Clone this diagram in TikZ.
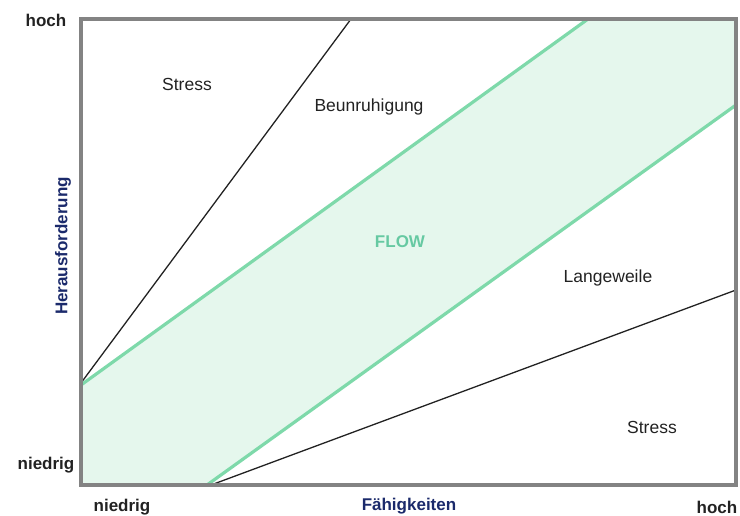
\documentclass[tikz,border=0pt]{standalone}
\usepackage{fontspec}
\setmainfont{Liberation Sans}
\definecolor{framegray}{HTML}{838383}
\definecolor{flowline}{HTML}{7ED9AA}
\definecolor{flowfill}{HTML}{E5F7ED}
\definecolor{flowtext}{HTML}{66C9A2}
\definecolor{axisnavy}{HTML}{1B2A6B}
\definecolor{ink}{HTML}{222222}
\tikzset{
  zone/.style={font=\fontsize{17.5}{20}\selectfont, text=ink, inner sep=0pt},
  tick/.style={font=\fontsize{17}{20}\selectfont\bfseries, text=ink, inner sep=0pt},
  axislabel/.style={font=\fontsize{17}{20}\selectfont\bfseries, text=axisnavy, inner sep=0pt},
  boundary/.style={line width=1.3pt, ink},
  channel/.style={line width=3.2pt, flowline},
}
\begin{document}
\begin{tikzpicture}[x=1pt,y=-1pt]
\useasboundingbox (0,0) rectangle (740,516);
% plot frame corners
\coordinate (tl) at (81,19);
\coordinate (br) at (736,485);
% channel edges
\coordinate (flowA) at (81,385);
\coordinate (flowB) at (588,19);
\coordinate (flowC) at (736,105);
\coordinate (flowD) at (207,485);
% boundaries of the outer zones
\coordinate (upA) at (81,383);
\coordinate (upB) at (351,19);
\coordinate (loA) at (211,485);
\coordinate (loB) at (736,290);
% flow channel
\fill[flowfill] (flowA) -- (flowB) -- (736,19) -- (flowC) -- (flowD) -- (81,485) -- cycle;
\draw[boundary] (upA) -- (upB);
\draw[boundary] (loA) -- (loB);
\draw[channel] (flowA) -- (flowB);
\draw[channel] (flowD) -- (flowC);
% frame
\draw[framegray, line width=4pt] (tl) rectangle (br);
% zone labels
\node[zone] (s1) at (187,84) {Stress};
\node[zone] (beu) at (369,107) {Beunruhigung};
\node[font=\fontsize{17}{20}\selectfont\bfseries, text=flowtext, inner sep=0pt] (flow) at (400,242) {FLOW};
\node[zone] (lang) at (608,278) {Langeweile};
\node[zone] (s2) at (652,427) {Stress};
% axis labels
\node[tick] (yhi) at (46,20) {hoch};
\node[tick] (ylo) at (46,465) {niedrig};
\node[tick] (xlo) at (122,507) {niedrig};
\node[tick] (xhi) at (717,507) {hoch};
\node[axislabel] (xlab) at (409,506) {Fähigkeiten};
\node[axislabel, rotate=90] (ylab) at (63,246) {Herausforderung};
\end{tikzpicture}
\end{document}
